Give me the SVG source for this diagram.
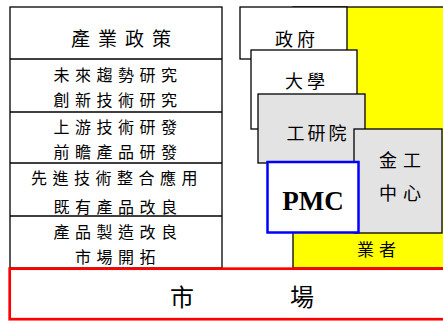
<svg xmlns="http://www.w3.org/2000/svg" width="443" height="322" viewBox="0 0 443 322">
<style>
.cj{font-family:"Noto Sans CJK TC","Noto Sans CJK SC",sans-serif;fill:#000;text-anchor:middle}
.row{font-size:16px;letter-spacing:5.5px}
.box{stroke:#000;stroke-width:1.3}
</style>
<rect width="443" height="322" fill="#fff"/>
<g id="policy-column">
<rect x="10" y="7" width="212" height="261" fill="#fff" class="box"/>
<line x1="10" y1="59" x2="222" y2="59" class="box"/>
<line x1="10" y1="112" x2="222" y2="112" class="box"/>
<line x1="10" y1="163" x2="222" y2="163" class="box"/>
<line x1="10" y1="216" x2="222" y2="216" class="box"/>
<text class="cj" x="125" y="46" font-size="19" letter-spacing="8">產業政策</text>
<text class="cj row" x="118" y="81">未來趨勢研究</text>
<text class="cj row" x="118" y="106">創新技術研究</text>
<text class="cj row" x="118" y="133">上游技術研發</text>
<text class="cj row" x="118" y="158">前瞻產品研發</text>
<text class="cj row" x="117" y="184">先進技術整合應用</text>
<text class="cj row" x="118" y="213">既有產品改良</text>
<text class="cj row" x="118" y="238">產品製造改良</text>
<text class="cj row" x="118" y="263">市場開拓</text>
</g>
<g id="industry">
<rect x="293" y="7" width="155" height="261" fill="#ffff00" class="box"/>
<text class="cj" x="379" y="256" font-size="17" letter-spacing="5">業者</text>
</g>
<g id="government">
<rect x="240" y="7" width="107" height="52" fill="#fff" class="box"/>
<text class="cj" x="297" y="46" font-size="18" letter-spacing="4">政府</text>
</g>
<g id="university">
<rect x="251" y="50" width="106" height="79" fill="#fff" class="box"/>
<text class="cj" x="307" y="88" font-size="18" letter-spacing="4">大學</text>
</g>
<g id="itri">
<rect x="258" y="94" width="107" height="69" fill="#e3e3e3" class="box"/>
<text class="cj" x="318" y="140" font-size="18" letter-spacing="3">工研院</text>
</g>
<g id="mirdc">
<rect x="354" y="129" width="88" height="104" fill="#e3e3e3" class="box"/>
<text class="cj" x="403" y="167" font-size="18" letter-spacing="6">金工</text>
<text class="cj" x="403" y="200" font-size="18" letter-spacing="6">中心</text>
</g>
<g id="pmc">
<rect x="267.5" y="162" width="91" height="70.5" fill="#fff" stroke="#0000ff" stroke-width="2.5"/>
<text x="313" y="210" font-family="'Liberation Serif',serif" font-weight="bold" font-size="27" text-anchor="middle">PMC</text>
</g>
<g id="market">
<rect x="9.7" y="268.7" width="440" height="50.5" fill="#fff" stroke="#ff0000" stroke-width="2.7"/>
<text class="cj" x="182" y="306" font-size="24">市</text>
<text class="cj" x="302" y="306" font-size="24">場</text>
</g>
<g id="connectors"/>
</svg>
